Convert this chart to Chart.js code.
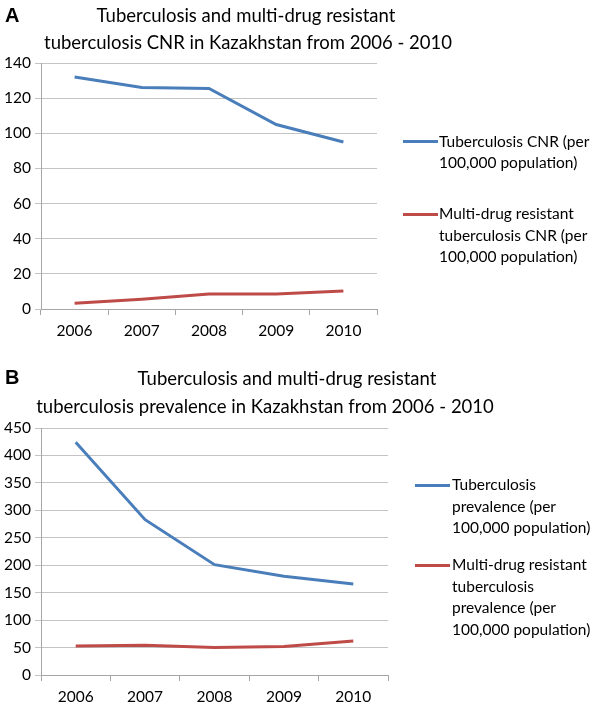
<!DOCTYPE html>
<html>
<head>
<meta charset="utf-8">
<script src="https://cdn.jsdelivr.net/npm/chart.js@4.4.1/dist/chart.umd.min.js"></script>
<style>
  body { margin: 0; background: #fff; color: #000; font-family: Lato, sans-serif; }
  #page { position: relative; width: 600px; height: 707px; overflow: hidden; }
  canvas { position: absolute; left: 0; }
  .panel { position: absolute; left: 5px; font-family: "Liberation Sans", Arial, sans-serif; font-weight: bold; font-size: 20px; line-height: 20px; }
  .title { position: absolute; font-size: 18.5px; line-height: 18px; white-space: nowrap; transform: translate(-50%, -50%); }
  .legend { position: absolute; font-size: 15.5px; line-height: 21.5px; white-space: nowrap; }
  .swatch { position: absolute; width: 35px; height: 3px; }
</style>
</head>
<body>
<div id="page">
  <canvas id="chartA" width="600" height="350" style="top:0"></canvas>
  <canvas id="chartB" width="600" height="357" style="top:350px"></canvas>
</div>
<script>
const years = ["2006", "2007", "2008", "2009", "2010"];

// panel A: case notification rate
const cnrTb = [132, 126, 125.5, 105, 95];
const cnrMdr = [3.3, 5.5, 8.5, 8.5, 10.2];
const cnrTitle = ["Tuberculosis and multi-drug resistant", "tuberculosis CNR in Kazakhstan from 2006 - 2010"];
const cnrLegend = [
  ["Tuberculosis CNR (per", "100,000 population)"],
  ["Multi-drug resistant", "tuberculosis CNR (per", "100,000 population)"]
];

// panel B: prevalence
const prevTb = [424, 283, 201, 180, 166];
const prevMdr = [53, 54, 50, 52, 62];
const prevTitle = ["Tuberculosis and multi-drug resistant", "tuberculosis prevalence in Kazakhstan from 2006 - 2010"];
const prevLegend = [
  ["Tuberculosis", "prevalence (per", "100,000 population)"],
  ["Multi-drug resistant", "tuberculosis", "prevalence (per", "100,000 population)"]
];

const BLUE = "#4a7ebb";
const RED = "#be4b48";
const tickFont = { family: "Lato", size: 15.5 };

function makeChart(id, tb, mdr, yMax, yStep, pad) {
  const ctx = document.getElementById(id).getContext("2d");
  return new Chart(ctx, {
    type: "line",
    data: {
      labels: years,
      datasets: [
        { data: tb, borderColor: BLUE, borderWidth: 3, pointRadius: 0, tension: 0 },
        { data: mdr, borderColor: RED, borderWidth: 3, pointRadius: 0, tension: 0 }
      ]
    },
    options: {
      responsive: false,
      animation: false,
      layout: { padding: pad },
      plugins: { legend: { display: false }, tooltip: { enabled: false } },
      scales: {
        x: {
          offset: true,
          grid: { offset: true, drawOnChartArea: false, tickLength: 6, color: "#a6a6a6" },
          border: { color: "#a6a6a6" },
          ticks: { color: "#000", font: tickFont, padding: 7, maxRotation: 0 },
          afterFit: s => { s.height = 30; }
        },
        y: {
          min: 0,
          max: yMax,
          grid: { color: "#c4c4c4", tickLength: 6 },
          border: { color: "#a6a6a6" },
          ticks: { stepSize: yStep, color: "#000", font: tickFont, padding: 4 },
          afterFit: s => { s.width = 41; }
        }
      }
    }
  });
}

function addText(cls, text, x, y) {
  const el = document.createElement("div");
  el.className = cls;
  el.textContent = text;
  el.style.left = x + "px";
  el.style.top = y + "px";
  document.getElementById("page").appendChild(el);
  return el;
}

function addLegendItem(lines, color, swatchX, textX, y) {
  const sw = document.createElement("div");
  sw.className = "swatch";
  sw.style.background = color;
  sw.style.left = swatchX + "px";
  sw.style.top = (y - 1.5) + "px";
  document.getElementById("page").appendChild(sw);

  const el = addText("legend", "", textX, y - 10.75);
  el.innerHTML = lines.join("<br>");
}

document.addEventListener("DOMContentLoaded", () => {
  makeChart("chartA", cnrTb, cnrMdr, 140, 20, { left: 0, top: 63, right: 223, bottom: 11 });
  makeChart("chartB", prevTb, prevMdr, 450, 50, { left: 0, top: 78, right: 212, bottom: 2 });

  addText("panel", "A", 5, 5);
  addText("title", cnrTitle[0], 246, 15);
  addText("title", cnrTitle[1], 248, 42);
  addLegendItem(cnrLegend[0], BLUE, 403, 439, 141.5);
  addLegendItem(cnrLegend[1], RED, 403, 439, 214);

  addText("panel", "B", 5, 367);
  addText("title", prevTitle[0], 287, 378);
  addText("title", prevTitle[1], 265, 406);
  addLegendItem(prevLegend[0], BLUE, 415, 452, 485);
  addLegendItem(prevLegend[1], RED, 415, 452, 565);
});
</script>
</body>
</html>
